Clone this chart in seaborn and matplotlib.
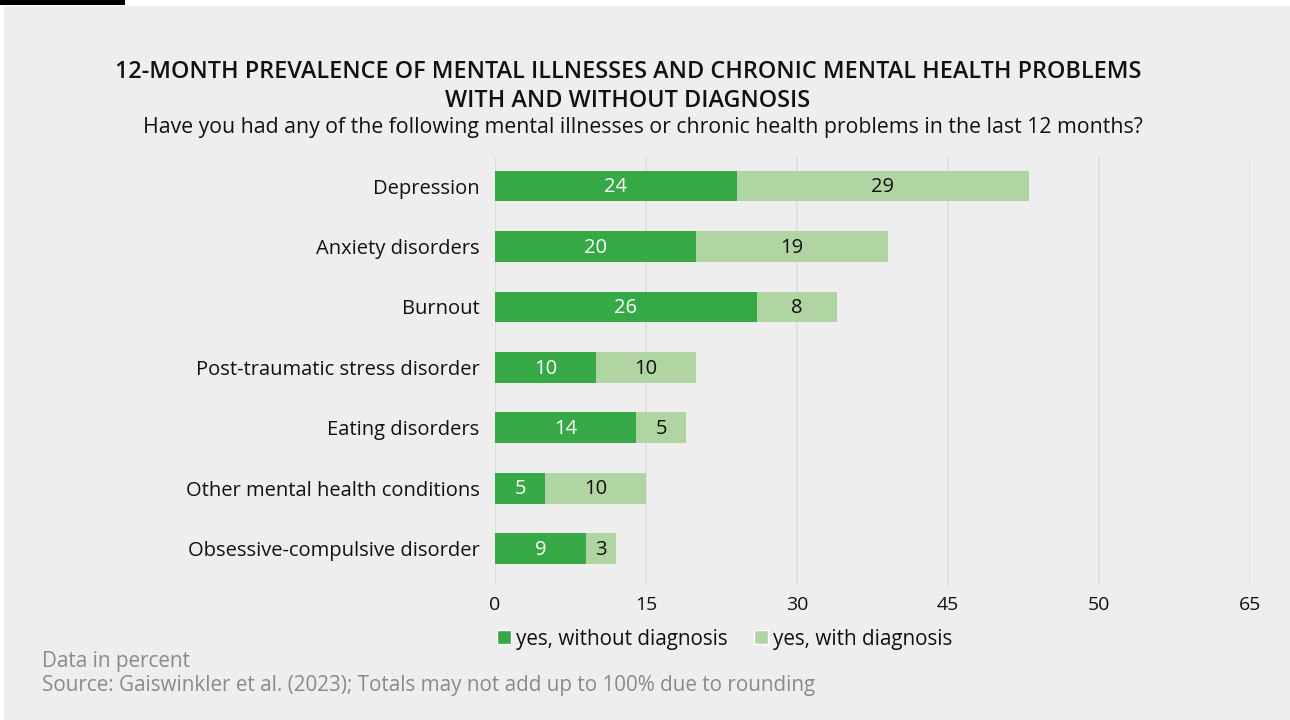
import matplotlib
matplotlib.use("Agg")
import matplotlib.pyplot as plt
from matplotlib.patches import Rectangle
import seaborn as sns
import pandas as pd

# Data (percent)
conditions = [
    "Depression",
    "Anxiety disorders",
    "Burnout",
    "Post-traumatic stress disorder",
    "Eating disorders",
    "Other mental health conditions",
    "Obsessive-compulsive disorder",
]
without_diagnosis = [24, 20, 26, 10, 14, 5, 9]
with_diagnosis = [29, 19, 8, 10, 5, 10, 3]
tick_values = [0, 15, 30, 45, 60, 75]
tick_labels = ["0", "15", "30", "45", "50", "65"]

DARK = "#37a846"
LIGHT = "#b1d5a2"
BG = "#eeeeee"
GRID = "#dcdcdc"
INK = "#111111"
FONT = ["Open Sans", "DejaVu Sans"]

sns.set_theme(style="white")
plt.rcParams["font.family"] = FONT

df = pd.DataFrame({
    "condition": conditions,
    "without": without_diagnosis,
    "with": with_diagnosis,
})
df["total"] = df["without"] + df["with"]

fig = plt.figure(figsize=(12.9, 7.2), dpi=100)
fig.patch.set_facecolor("white")
# grey panel and black accent strip
fig.add_artist(Rectangle((4 / 1290, 0), 1 - 4 / 1290, 1 - 6 / 720,
                         transform=fig.transFigure, facecolor=BG,
                         edgecolor="none", zorder=0))
fig.add_artist(Rectangle((0, 1 - 5 / 720), 125 / 1290, 5 / 720,
                         transform=fig.transFigure, facecolor="black",
                         edgecolor="none", zorder=0))

ax = fig.add_axes([495 / 1290, 1 - 585 / 720, 755 / 1290, (585 - 157) / 720])
ax.set_facecolor("none")

sns.barplot(data=df, x="total", y="condition", color=LIGHT, width=0.51,
            saturation=1, linewidth=0, ax=ax, zorder=3)
sns.barplot(data=df, x="without", y="condition", color=DARK, width=0.51,
            saturation=1, linewidth=0, ax=ax, zorder=4)

for i, (w, d) in enumerate(zip(without_diagnosis, with_diagnosis)):
    ax.text(w / 2, i + 0.02, f"{w}", ha="center", va="center", color="white",
            fontsize=14.5, zorder=5)
    ax.text(w + d / 2, i + 0.02, f"{d}", ha="center", va="center", color=INK,
            fontsize=14.5, zorder=5)

ax.set_xlim(0, 75)
ax.set_ylim(6.6, -0.48)
ax.set_xticks(tick_values)
ax.set_xticklabels(tick_labels)
ax.xaxis.grid(True, color=GRID, linewidth=1.2, zorder=0)
ax.set_axisbelow(True)
for s in ax.spines.values():
    s.set_visible(False)
ax.tick_params(axis="x", length=0, pad=8, labelsize=14, labelcolor=INK)
ax.tick_params(axis="y", length=0, pad=11, labelsize=14.5, labelcolor=INK)
ax.set_xlabel("")
ax.set_ylabel("")

# titles
fig.text(628 / 1290, 1 - 72 / 720,
         "12-MONTH PREVALENCE OF MENTAL ILLNESSES AND CHRONIC MENTAL HEALTH PROBLEMS",
         ha="center", va="center", fontsize=16.8, fontweight="semibold", color=INK)
fig.text(628 / 1290, 1 - 101 / 720, "WITH AND WITHOUT DIAGNOSIS",
         ha="center", va="center", fontsize=16.8, fontweight="semibold", color=INK)
fig.text(643 / 1290, 1 - 127 / 720,
         "Have you had any of the following mental illnesses or chronic health problems in the last 12 months?",
         ha="center", va="center", fontsize=15.3, color=INK)

# legend
handles = [Rectangle((0, 0), 1, 1, facecolor=DARK),
           Rectangle((0, 0), 1, 1, facecolor=LIGHT)]
fig.legend(handles, ["yes, without diagnosis", "yes, with diagnosis"],
           loc="center left", bbox_to_anchor=(497 / 1290, 1 - 639 / 720),
           ncol=2, frameon=False, fontsize=14.9, handlelength=0.68,
           handleheight=0.68, handletextpad=0.25, columnspacing=1.25,
           borderpad=0, borderaxespad=0, labelcolor=INK)

# footer
fig.text(42 / 1290, 1 - 661 / 720, "Data in percent", ha="left", va="center",
         fontsize=14.9, color="#8a8a8a")
fig.text(42 / 1290, 1 - 686 / 720,
         "Source: Gaiswinkler et al. (2023); Totals may not add up to 100% due to rounding",
         ha="left", va="center", fontsize=14.9, color="#8a8a8a")

fig.savefig("out.png", dpi=100, facecolor=fig.get_facecolor())
